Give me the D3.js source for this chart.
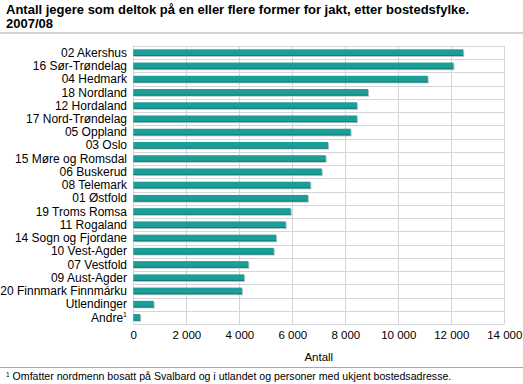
<!DOCTYPE html>
<html><head><meta charset="utf-8">
<script src="https://cdn.jsdelivr.net/npm/d3@7"></script>
<style>body{margin:0;background:#fff}svg{display:block;font-family:"Liberation Sans",Arial,sans-serif}</style>
</head><body>
<script>
const categories = ["02 Akershus","16 Sør-Trøndelag","04 Hedmark","18 Nordland","12 Hordaland","17 Nord-Trøndelag","05 Oppland","03 Oslo","15 Møre og Romsdal","06 Buskerud","08 Telemark","01 Østfold","19 Troms Romsa","11 Rogaland","14 Sogn og Fjordane","10 Vest-Agder","07 Vestfold","09 Aust-Agder","20 Finnmark Finnmárku","Utlendinger","Andre"];
const values = [12450,12080,11110,8860,8440,8440,8200,7350,7260,7110,6680,6590,5940,5750,5390,5300,4340,4180,4100,770,260];
const ticks = [0,2000,4000,6000,8000,10000,12000,14000];
const titleLines = ["Antall jegere som deltok på en eller flere former for jakt, etter bostedsfylke.","2007/08"];
const xTitle = "Antall";
const footnote = "Omfatter nordmenn bosatt på Svalbard og i utlandet og personer med ukjent bostedsadresse.";

const W=523,H=384;
const svg=d3.select("body").append("svg").attr("width",W).attr("height",H);
const m={l:133.3,r:504.3,t:46,b:324};
const x=d3.scaleLinear().domain([0,14000]).range([m.l,m.r]);
const y=d3.scaleBand().domain(categories).range([m.t,m.b]).paddingInner(0.5).paddingOuter(0.25);
const yb=d3.scaleBand().domain(categories).range([m.t,m.b]);

const t=svg.append("text").attr("x",6).attr("font-weight","bold").attr("font-size",13).attr("fill","#000");
titleLines.forEach((s,i)=>t.append("tspan").attr("x",6).attr("y",14+i*14).text(s));
svg.append("line").attr("x1",0).attr("x2",W).attr("y1",33).attr("y2",33).attr("stroke","#a7a7a7");

const grid="#d3d5da";
svg.append("g").selectAll("line").data(categories).join("line")
 .attr("x1",m.l).attr("x2",m.r).attr("y1",d=>Math.round(yb(d))+0.5).attr("y2",d=>Math.round(yb(d))+0.5).attr("stroke",grid);
svg.append("line").attr("x1",m.l).attr("x2",m.r).attr("y1",m.b+0.5).attr("y2",m.b+0.5).attr("stroke",grid);
svg.append("g").selectAll("line").data(ticks).join("line")
 .attr("x1",d=>Math.round(x(d))+0.5).attr("x2",d=>Math.round(x(d))+0.5).attr("y1",m.t).attr("y2",m.b).attr("stroke",grid);

const bars=svg.append("g");
bars.selectAll("rect.sh").data(values).join("rect").attr("class","sh")
 .attr("x",x(0)+1).attr("y",(d,i)=>y(categories[i])+1).attr("width",d=>x(d)-x(0)).attr("height",y.bandwidth())
 .attr("fill","#b9c2c4");
bars.selectAll("rect.b").data(values).join("rect").attr("class","b")
 .attr("x",x(0)).attr("y",(d,i)=>y(categories[i])).attr("width",d=>x(d)-x(0)).attr("height",y.bandwidth())
 .attr("fill","#1b9e98");
bars.selectAll("line.e").data(values).join("line").attr("class","e")
 .attr("x1",x(0)).attr("x2",d=>x(d)).attr("y1",(d,i)=>y(categories[i])+y.bandwidth()-0.5).attr("y2",(d,i)=>y(categories[i])+y.bandwidth()-0.5)
 .attr("stroke","#137e79");

const lab=svg.append("g").attr("font-size",12).attr("fill","#000").attr("text-anchor","end");
categories.forEach(c=>{
  const tx=lab.append("text").attr("x",127).attr("y",y(c)+y.bandwidth()/2).attr("dy","0.35em").text(c);
  if(c==="Andre") tx.append("tspan").attr("font-size",7).attr("dy","-0.6em").text("1");
});

const fmt=d=>d3.format(",")(d).replace(/,/g," ");
const ax=svg.append("g").attr("transform",`translate(0,${m.b})`)
 .call(d3.axisBottom(x).tickValues(ticks).tickFormat(fmt).tickSize(0).tickPadding(7));
ax.select(".domain").remove();
ax.selectAll("text").attr("font-size",11.5).attr("fill","#000").attr("font-family","Liberation Sans,Arial,sans-serif");
svg.append("text").attr("x",(m.l+m.r)/2).attr("y",361).attr("text-anchor","middle").attr("font-size",11.5).text(xTitle);

svg.append("line").attr("x1",0).attr("x2",W).attr("y1",367.5).attr("y2",367.5).attr("stroke","#a7a7a7");
const fn=svg.append("text").attr("x",6).attr("y",380).attr("font-size",10.6).attr("fill","#000");
fn.append("tspan").attr("font-size",6.5).attr("dy","-0.5em").text("1");
fn.append("tspan").attr("dy","0.35em").text(" "+footnote);
</script>
</body></html>
